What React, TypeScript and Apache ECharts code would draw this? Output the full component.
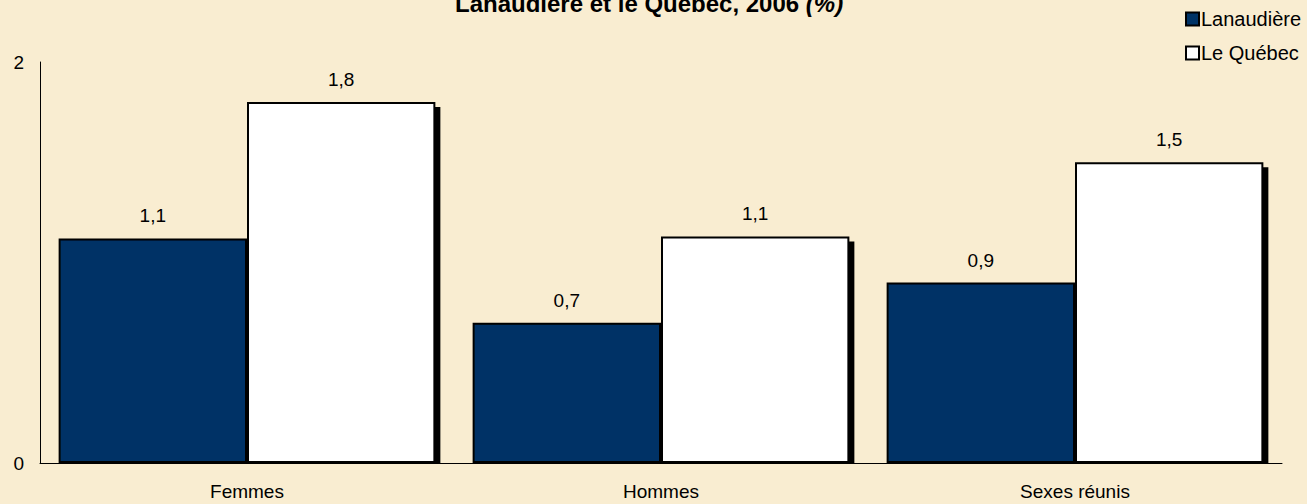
import React, { useEffect, useRef } from "react";
import * as echarts from "echarts";

const categories = ["Femmes", "Hommes", "Sexes réunis"];
const lanaudiere = [1.12, 0.7, 0.9];
const quebec = [1.8, 1.13, 1.5];
const seriesNames = ["Lanaudière", "Le Québec"];
const yTicks = [0, 2];

const fmt = (v: number) => v.toFixed(1).replace(".", ",");

export default function App() {
  const ref = useRef<HTMLDivElement>(null);
  useEffect(() => {
    document.body.style.margin = "0";
    const chart = echarts.init(ref.current!, null, { renderer: "svg" });
    const font = "Liberation Sans, Arial, sans-serif";
    const bg = "#F9EDD1";
    const barStyle = (color: string) => ({
      color,
      borderColor: "#000",
      borderWidth: 2,
      shadowColor: "#000",
      shadowBlur: 0,
      shadowOffsetX: 5,
      shadowOffsetY: 5,
    });
    const label = {
      show: true,
      position: "top" as const,
      distance: 13,
      color: "#000",
      fontSize: 19,
      fontFamily: font,
      formatter: (p: any) => fmt(p.value),
    };
    chart.setOption({
      animation: false,
      backgroundColor: bg,
      textStyle: { fontFamily: font },
      title: {
        text: "{b|Lanaudière et le Québec, 2006 }{i|(%)}",
        left: 450,
        top: -15,
        textStyle: {
          rich: {
            b: { fontSize: 24, fontWeight: "bold", color: "#000", fontFamily: font, lineHeight: 26 },
            i: { fontSize: 24, fontWeight: "bold", fontStyle: "italic", color: "#000", fontFamily: font, lineHeight: 26 },
          },
        },
      },
      legend: {
        orient: "vertical",
        left: 1180,
        top: 4,
        itemWidth: 13,
        itemHeight: 13,
        itemGap: 14,
        icon: "rect",
        textStyle: { fontSize: 20, color: "#000", fontFamily: font, padding: [0, 0, 0, -3] },
        data: seriesNames.map((n, i) => ({
          name: n,
          itemStyle: {
            color: i === 0 ? "#003366" : "#FFFFFF",
            borderColor: "#000",
            borderWidth: 2,
            shadowBlur: 0,
            shadowOffsetX: 0,
            shadowOffsetY: 0,
            shadowColor: "transparent",
          },
        })),
      },
      grid: { left: 40, right: 25, top: 62, bottom: 41, containLabel: false },
      xAxis: {
        type: "category",
        data: categories,
        axisLine: { lineStyle: { color: "#000", width: 1 } },
        axisTick: { show: false },
        axisLabel: { fontSize: 19, color: "#000", margin: 19, fontFamily: font },
      },
      yAxis: {
        type: "value",
        min: yTicks[0],
        max: yTicks[1],
        interval: 2,
        axisLine: { show: true, lineStyle: { color: "#000", width: 1 } },
        axisTick: { show: false },
        splitLine: { show: false },
        axisLabel: { fontSize: 19, color: "#000", margin: 16, fontFamily: font },
      },
      graphic: [
        {
          type: "rect",
          z: 100,
          silent: true,
          shape: { x: 41, y: 464, width: 1241, height: 5 },
          style: { fill: bg },
        },
      ],
      series: [
        {
          name: seriesNames[0],
          type: "bar",
          data: lanaudiere,
          barGap: "0%",
          barCategoryGap: "9%",
          itemStyle: barStyle("#003366"),
          label,
        },
        {
          name: seriesNames[1],
          type: "bar",
          data: quebec,
          barGap: "0%",
          barCategoryGap: "9%",
          itemStyle: barStyle("#FFFFFF"),
          label,
        },
      ],
    });
    return () => chart.dispose();
  }, []);
  return <div ref={ref} style={{ width: 1307, height: 504 }} />;
}
